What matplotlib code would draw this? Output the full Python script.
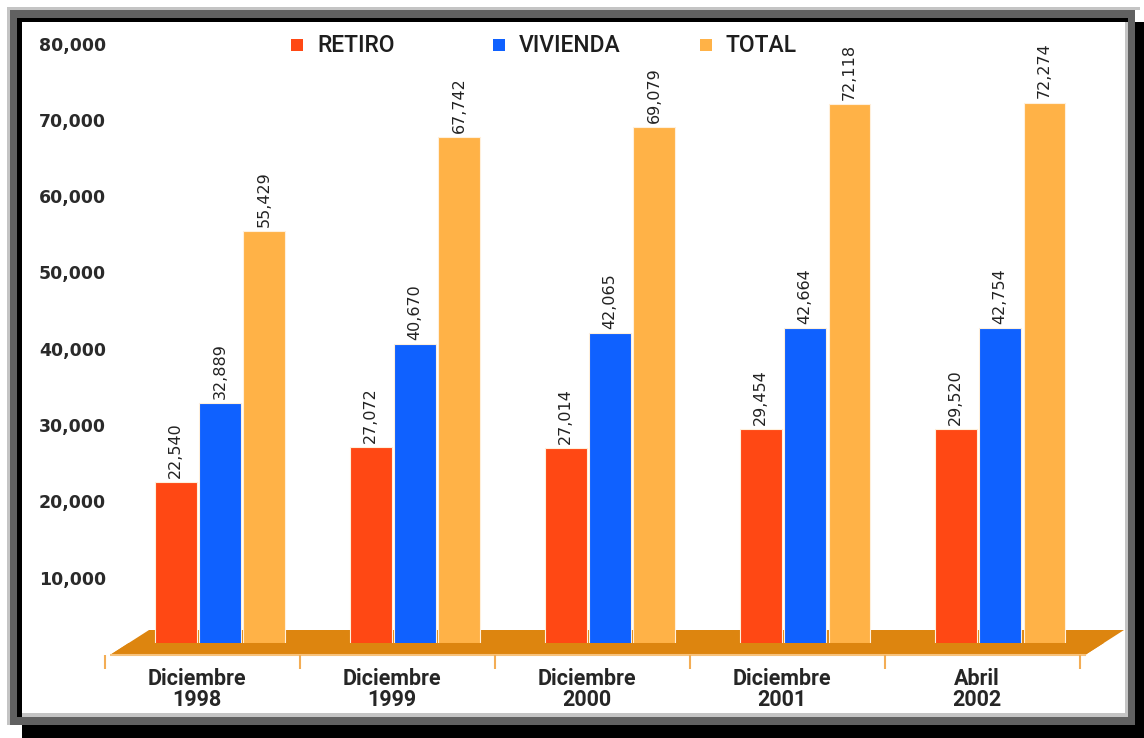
import numpy as np
import matplotlib.pyplot as plt
from matplotlib.patches import Rectangle, Polygon

W, H = 1144, 738

periodos = ['Diciembre\n1998', 'Diciembre\n1999', 'Diciembre\n2000',
            'Diciembre\n2001', 'Abril\n2002']
series = ['RETIRO', 'VIVIENDA', 'TOTAL']
retiro = [22540, 27072, 27014, 29454, 29520]
vivienda = [32889, 40670, 42065, 42664, 42754]
total = [55429, 67742, 69079, 72118, 72274]
marcas_y = [10000, 20000, 30000, 40000, 50000, 60000, 70000, 80000]

colores = ['#ff4814', '#0f61ff', '#ffb247']
piso = '#dd850f'


def rect_px(fig, x0, y0, x1, y1, color):
    # rectangulo en pixeles contados desde la esquina superior izquierda
    fig.add_artist(Rectangle((x0 / W, 1 - y1 / H), (x1 - x0) / W, (y1 - y0) / H,
                             transform=fig.transFigure, facecolor=color,
                             edgecolor='none', zorder=-5))


fig = plt.figure(figsize=(W / 100, H / 100), dpi=100)
fig.patch.set_facecolor('white')

# marco con sombra
rect_px(fig, 22, 22, 1144, 738, 'black')
rect_px(fig, 7, 7, 1140, 10, '#c4c4c4')
rect_px(fig, 7, 7, 10, 725, '#c4c4c4')
rect_px(fig, 10, 10, 1135, 725, '#616161')
rect_px(fig, 17, 18, 1128, 717, 'black')
rect_px(fig, 22, 22, 1128, 717, '#c4c4c4')
rect_px(fig, 22, 22, 1125, 713, 'white')

ax = fig.add_axes([110 / W, 38 / H, 1015 / W, 670 / H])
ax.patch.set_visible(False)
ax.set_xlim(-0.5641, 4.641)
ax.set_ylim(-6029, 81782)
for s in ax.spines.values():
    s.set_visible(False)
ax.set_xticks([])
ax.set_yticks(marcas_y)
ax.set_yticklabels([f'{v:,}' for v in marcas_y], fontsize=12.5,
                   fontweight='bold', color='#2a2a2a')
ax.tick_params(axis='y', length=0, pad=3)

x = np.arange(len(periodos))

# piso del grafico
y_frente, y_fondo, y_base = -131, 3145, 1442
izq, der, sesgo = -0.564, 4.436, 0.2
ax.add_patch(Polygon([(izq, y_frente), (izq + sesgo, y_fondo),
                      (der + sesgo, y_fondo), (der, y_frente)],
                     closed=True, facecolor=piso, edgecolor='none', zorder=2))
f = (y_base - y_frente) / (y_fondo - y_frente)
ax.add_patch(Polygon([(izq, y_frente), (izq + sesgo * f, y_base),
                      (der + sesgo * f, y_base), (der, y_frente)],
                     closed=True, facecolor=piso, edgecolor='none', zorder=4))
ax.plot([izq, der], [y_frente, y_frente], color='#f7c27c', lw=1.5, zorder=5)
ax.vlines(np.arange(len(periodos) + 1) - 0.59, -1966, y_frente,
          color='#f3ad55', lw=1.5, clip_on=False, zorder=5)

for k, (vals, col) in enumerate(zip([retiro, vivienda, total], colores)):
    barras = ax.bar(x + (k - 1) * 0.228, vals, width=0.215, color=col,
                    edgecolor='#fff0dc', linewidth=0.8, zorder=3)
    ax.bar_label(barras, labels=[f'{v:,}' for v in vals], rotation=90,
                 padding=3, fontsize=11.5, color='#222222')

for i, p in enumerate(periodos):
    ax.text(i - 0.12, -1835, p, ha='center', va='top', fontsize=15.5,
            fontfamily='Roboto', fontweight='bold', color='#262626',
            linespacing=0.95, clip_on=False)

# leyenda
for xs, nombre, col in zip([291, 493, 700], series, colores):
    rect_px(fig, xs, 39, xs + 12, 51, col)
    fig.text((xs + 26) / W, 1 - 45 / H, nombre, ha='left', va='center',
             fontsize=16.5, fontfamily='Roboto', fontweight='medium',
             color='#1e1e1e')

fig.savefig('out.png', dpi=100)
